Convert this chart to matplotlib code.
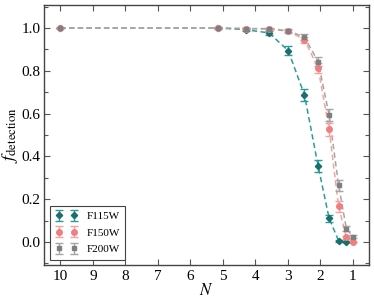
import matplotlib
matplotlib.use("Agg")
import matplotlib.pyplot as plt
from matplotlib.ticker import MultipleLocator

plt.rcParams['font.family'] = ['Liberation Serif', 'DejaVu Serif']
plt.rcParams['mathtext.fontset'] = 'stix'

# x values
N = [10, 5.16, 4.30, 3.58, 2.99, 2.49, 2.07, 1.73, 1.44, 1.2, 1.0]

f115 = [1.0, 1.0, 0.992, 0.977, 0.894, 0.687, 0.355, 0.11, 0.006, 0.0]
e115 = [0.0, 0.003, 0.006, 0.01, 0.02, 0.027, 0.027, 0.017, 0.005, 0.002]
N115 = N[:10]

f150 = [1.0, 1.0, 0.997, 0.995, 0.985, 0.946, 0.812, 0.526, 0.166, 0.022, 0.0]
e150 = [0.0, 0.002, 0.003, 0.004, 0.007, 0.014, 0.024, 0.03, 0.024, 0.008, 0.002]

f200 = [1.0, 1.0, 0.997, 0.997, 0.987, 0.957, 0.843, 0.592, 0.265, 0.062, 0.025]
e200 = [0.0, 0.002, 0.003, 0.003, 0.007, 0.013, 0.022, 0.028, 0.025, 0.013, 0.008]

fig = plt.figure(figsize=(3.74, 3.04), dpi=100)
ax = fig.add_axes([0.118, 0.128, 0.869, 0.856])

series = [
    (N115, f115, e115, 'F115W', 'D', 3.2, '#1b6e6b', '#2a9d99'),
    (N, f150, e150, 'F150W', 'o', 4.0, '#f08080', '#f4a3a3'),
    (N, f200, e200, 'F200W', 's', 3.4, '#7f7f7f', '#a5a5a5'),
]
for xs, ys, es, lab, mk, ms, mc, ec in series:
    ax.plot(xs, ys, ls='--', color=ec, lw=1.1, dashes=(3.5, 2.2), zorder=1)
    ax.errorbar(xs, ys, yerr=es, fmt=mk, ms=ms, color=mc, mec=mc,
                ecolor=ec, elinewidth=1.0, capsize=2.8, capthick=1.0,
                label=lab, zorder=3)

ax.set_xlim(10.5, 0.5)
ax.set_ylim(-0.108, 1.108)
ax.yaxis.set_major_locator(MultipleLocator(0.2))
ax.yaxis.set_minor_locator(MultipleLocator(0.1))
ax.set_xticks(range(1, 11))
ax.tick_params(which='both', direction='in', top=True, right=True,
               color='#555555', labelsize=11)
ax.tick_params(which='major', length=4, width=0.8)
ax.tick_params(which='minor', length=3, width=0.8)
ax.tick_params(axis='y', pad=2.5)
for s in ax.spines.values():
    s.set_color('#444444')
    s.set_linewidth(1.0)

ax.set_xlabel('$N$', fontsize=12, labelpad=0)
ax.set_ylabel(r'$f_{\rm detection}$', fontsize=13, labelpad=1)

leg = ax.legend(loc='lower left', numpoints=2, fontsize=8, fancybox=False,
                edgecolor='#444444', framealpha=1, borderpad=0.5,
                handlelength=2.0, labelspacing=0.6, borderaxespad=0.5)
leg.get_frame().set_linewidth(0.8)

fig.savefig('out.png', dpi=100)
